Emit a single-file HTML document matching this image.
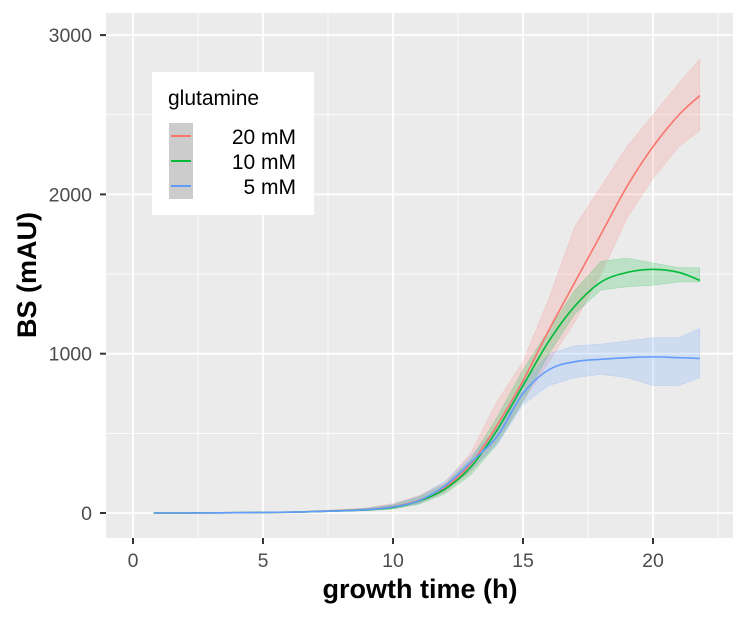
<!DOCTYPE html>
<html><head><meta charset="utf-8"><style>
body{margin:0;background:#fff;}
svg text{font-family:"Liberation Sans",Arial,sans-serif;}
</style></head><body>
<svg width="748" height="613" viewBox="0 0 748 613">
<g id="grid"></g>
<g id="ribbons"></g>
<g id="lines"></g>
<g id="axes"></g>
<g>
<rect x="152" y="72" width="162" height="143" fill="#fff"/>
<text x="168" y="105" font-size="21" fill="#000">glutamine</text>
<rect x="169" y="123" width="24" height="76" fill="#cccccc"/>
<line x1="171" x2="191" y1="136" y2="136" stroke="#F8766D" stroke-width="2"/>
<line x1="171" x2="191" y1="161" y2="161" stroke="#00BA38" stroke-width="2"/>
<line x1="171" x2="191" y1="186" y2="186" stroke="#619CFF" stroke-width="2"/>
<text x="296" y="144" font-size="21" text-anchor="end">20 mM</text>
<text x="296" y="169" font-size="21" text-anchor="end">10 mM</text>
<text x="296" y="194" font-size="21" text-anchor="end">5 mM</text>
</g>
<text x="420" y="598" font-size="27" font-weight="bold" text-anchor="middle">growth time (h)</text>
<text transform="translate(36,275) rotate(-90)" font-size="27" font-weight="bold" text-anchor="middle">BS (mAU)</text>
</svg>
<script>
const times=[0.8,2,4,6,8,9,10,11,12,13,14,15,16,17,18,19,20,21,21.8];
const red=[0,0,2,5,15,22,40,80,160,310,550,830,1150,1450,1750,2050,2300,2500,2620];
const redLo=[0,0,1,3,10,15,30,60,130,260,450,700,950,1200,1500,1850,2100,2300,2400];
const redHi=[0,1,4,8,22,32,60,110,190,380,700,950,1350,1800,2050,2300,2500,2700,2850];
const green=[0,0,2,5,14,20,35,75,150,290,520,800,1080,1300,1450,1510,1530,1510,1460];
const greenLo=[0,0,1,3,10,14,25,55,120,240,430,700,1000,1250,1400,1420,1430,1450,1450];
const greenHi=[0,1,3,7,20,28,50,100,180,340,600,900,1150,1400,1580,1600,1570,1540,1540];
const blue=[0,0,2,5,14,21,38,78,170,320,480,750,900,950,965,975,980,975,970];
const blueLo=[0,0,1,3,10,15,28,60,140,270,430,680,800,850,870,850,800,800,850];
const blueHi=[0,1,3,7,20,30,55,105,200,360,530,820,1000,1050,1060,1080,1100,1100,1160];
const xTicks=[0,5,10,15,20];
const yTicks=[0,1000,2000,3000];
const L=106,R=733,T=13,B=538;
const xs=t=>133+t*26;
const ys=v=>513-v*0.1593;
const NS='http://www.w3.org/2000/svg';
function mk(tag,attrs,parent){const e=document.createElementNS(NS,tag);for(const k in attrs)e.setAttribute(k,attrs[k]);document.getElementById(parent).appendChild(e);return e;}
function path(vals){
  const p=times.map((t,i)=>[xs(t),ys(vals[i])]);
  let d='M'+p[0][0]+','+p[0][1];
  for(let i=0;i<p.length-1;i++){
    const p0=p[Math.max(0,i-1)],p1=p[i],p2=p[i+1],p3=p[Math.min(p.length-1,i+2)];
    const c1=[p1[0]+(p2[0]-p0[0])/6,p1[1]+(p2[1]-p0[1])/6];
    const c2=[p2[0]-(p3[0]-p1[0])/6,p2[1]-(p3[1]-p1[1])/6];
    d+=' C'+c1+' '+c2+' '+p2;
  }
  return d;
}
function ribbon(lo,hi){
  let d='M';
  times.forEach((t,i)=>{d+=xs(t)+','+ys(hi[i])+' L';});
  for(let i=times.length-1;i>=0;i--){d+=xs(times[i])+','+ys(lo[i])+(i?' L':' Z');}
  return d;
}
let bg=mk('rect',{x:L,y:T,width:R-L,height:B-T,fill:'#EBEBEB'},'grid');


[2.5,7.5,12.5,17.5,22.5].forEach(t=>{let l=mk('line',{x1:xs(t),x2:xs(t),y1:T,y2:B,stroke:'#fff','stroke-width':0.8},'grid');

});
[500,1500,2500].forEach(v=>{let l=mk('line',{x1:L,x2:R,y1:ys(v),y2:ys(v),stroke:'#fff','stroke-width':0.8},'grid');

});
xTicks.forEach(t=>{let l=mk('line',{x1:xs(t),x2:xs(t),y1:T,y2:B,stroke:'#fff','stroke-width':1.8},'grid');


let k=mk('line',{x1:xs(t),x2:xs(t),y1:B,y2:B+6,stroke:'#333','stroke-width':2},'axes');


let tx=mk('text',{x:xs(t),y:567,'font-size':19.5,'text-anchor':'middle',fill:'#4d4d4d'},'axes');tx.textContent=t;

});
yTicks.forEach(v=>{let l=mk('line',{x1:L,x2:R,y1:ys(v),y2:ys(v),stroke:'#fff','stroke-width':1.8},'grid');


let k=mk('line',{x1:L-6,x2:L,y1:ys(v),y2:ys(v),stroke:'#333','stroke-width':2},'axes');


let tx=mk('text',{x:92,y:ys(v)+7,'font-size':19.5,'text-anchor':'end',fill:'#4d4d4d'},'axes');tx.textContent=v;

});
[[redLo,redHi,'#F8766D','20mm'],[greenLo,greenHi,'#00BA38','10mm'],[blueLo,blueHi,'#619CFF','5mm']].forEach(s=>{
 let r=mk('path',{d:ribbon(s[0],s[1]),fill:s[2],'fill-opacity':0.2,stroke:s[2],'stroke-opacity':0.3,'stroke-width':0.5},'ribbons');
 
 });
[[red,'#F8766D','20mm'],[green,'#00BA38','10mm'],[blue,'#619CFF','5mm']].forEach(s=>{
 let l=mk('path',{d:path(s[0]),fill:'none',stroke:s[1],'stroke-width':1.6},'lines');
 
 });
</script>
</body></html>
